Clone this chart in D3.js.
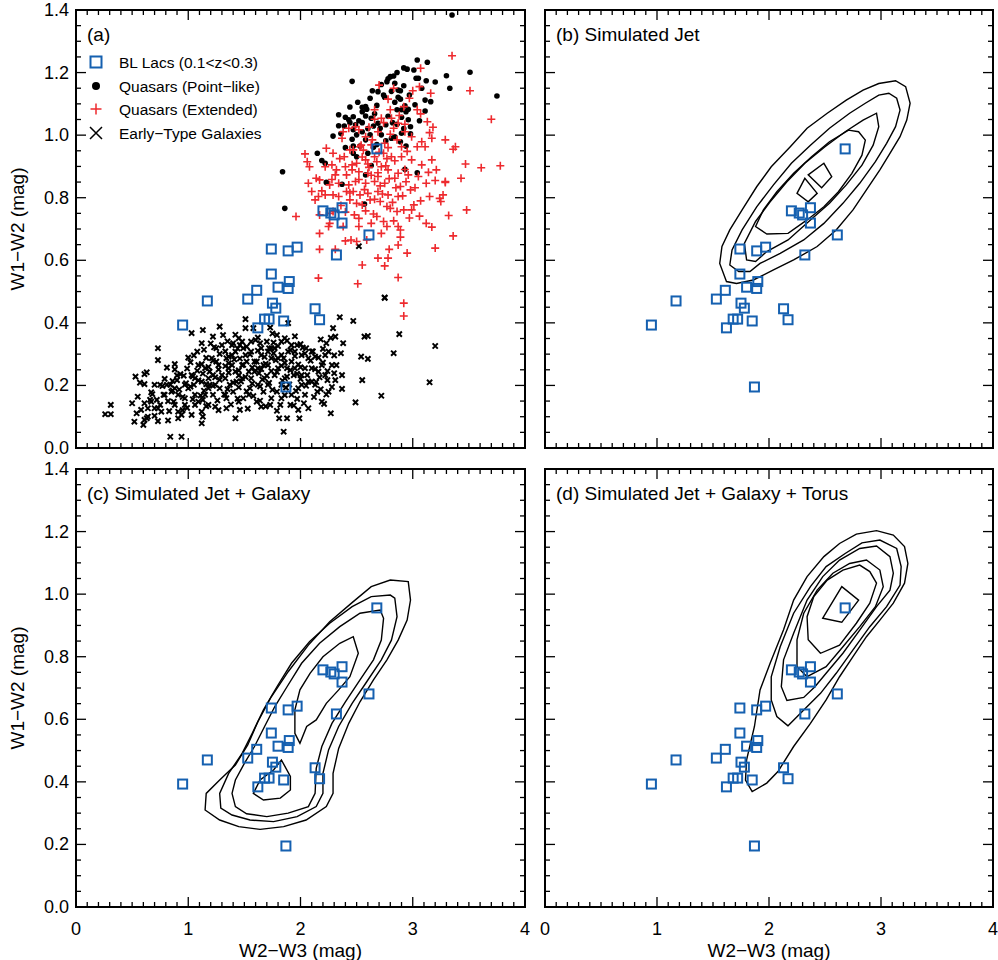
<!DOCTYPE html>
<html>
<head>
<meta charset="utf-8">
<title>WISE colours of BL Lacs</title>
<script src="https://d3js.org/d3.v7.min.js"></script>
<style>
  body { margin: 0; background: #fff; }
  text { font-family: "Liberation Sans", Arial, Helvetica, sans-serif; fill: #000; }
</style>
</head>
<body>
<svg id="chart" width="998" height="960"></svg>
<script>
// ---- data (W2-W3, W1-W2) ----
blLacs = [
  [0.95,0.393],[1.17,0.47],[1.53,0.476],[1.61,0.504],[1.62,0.384],[1.68,0.412],[1.72,0.412],
  [1.75,0.463],[1.74,0.556],[1.74,0.636],[1.78,0.447],[1.80,0.514],[1.85,0.406],[1.87,0.195],
  [1.89,0.630],[1.89,0.510],[1.90,0.532],[1.97,0.642],[2.13,0.445],[2.17,0.410],[2.20,0.758],
  [2.27,0.751],[2.30,0.745],[2.37,0.768],[2.37,0.719],[2.32,0.617],[2.61,0.681],[2.68,0.956]
];

galaxies = [
  [0.26,0.108],[0.31,0.108],[0.31,0.138],[0.52,0.084],[0.50,0.143],[0.53,0.228],[0.57,0.209],
  [0.61,0.204],[0.63,0.242],[0.61,0.236],[0.54,0.111],[0.55,0.164],[0.58,0.122],[0.61,0.143],
  [0.61,0.090],[0.60,0.074],[0.63,0.095],[0.64,0.100],[0.67,0.178],[0.66,0.154],[0.72,0.154],
  [0.73,0.086],[0.73,0.127],[0.75,0.202],[0.73,0.319],[0.73,0.281],[0.81,0.257],[0.81,0.202],
  [0.82,0.150],[0.82,0.088],[0.84,0.036],[0.85,0.180],[0.88,0.268],[0.90,0.217],[0.91,0.116],
  [0.91,0.095],[0.94,0.036],[0.96,0.231],[0.97,0.138],[1.00,0.191],[1.00,0.289],[1.03,0.367],
  [1.03,0.233],[1.05,0.202],[1.06,0.170],[1.09,0.265],[1.08,0.308],[1.12,0.335],[1.13,0.377],
  [1.12,0.116],[1.13,0.100],[1.12,0.079],[1.13,0.154],[1.18,0.191],[1.19,0.244],[1.21,0.287],
  [1.24,0.202],[1.24,0.132],[1.25,0.319],[1.28,0.388],[1.30,0.329],[1.31,0.361],[1.33,0.170],
  [1.34,0.127],[1.36,0.255],[1.37,0.202],[1.39,0.297],[1.40,0.335],[1.42,0.095],[1.45,0.351],
  [1.45,0.148],[1.46,0.122],[1.48,0.223],[1.49,0.319],[1.51,0.412],[1.51,0.383],[1.52,0.276],
  [1.54,0.170],[1.56,0.308],[1.58,0.383],[1.59,0.244],[1.61,0.148],[1.62,0.202],[1.64,0.335],
  [1.65,0.132],[1.67,0.265],[1.70,0.340],[1.71,0.308],[1.71,0.202],[1.73,0.385],[1.74,0.159],
  [1.77,0.233],[1.79,0.361],[1.80,0.287],[1.82,0.138],[1.81,0.095],[1.85,0.052],[1.86,0.351],
  [1.88,0.255],[1.88,0.095],[1.89,0.399],[1.92,0.170],[1.94,0.233],[1.95,0.308],[1.97,0.329],
  [1.98,0.122],[1.99,0.095],[2.01,0.202],[2.03,0.143],[2.04,0.255],[2.05,0.319],[2.07,0.287],
  [2.10,0.212],[2.13,0.202],[2.13,0.292],[2.15,0.180],[2.19,0.148],[2.19,0.265],[2.22,0.297],
  [2.23,0.335],[2.25,0.180],[2.27,0.111],[2.29,0.383],[2.31,0.217],[2.32,0.265],[2.31,0.356],
  [2.35,0.418],[2.36,0.303],[2.37,0.233],[2.37,0.189],[2.38,0.335],[2.47,0.406],[2.49,0.146],
  [2.54,0.292],[2.55,0.217],[2.57,0.356],[2.60,0.358],[2.60,0.285],[2.72,0.167],[2.75,0.481],
  [2.83,0.303],[2.88,0.364],[3.15,0.210],[3.20,0.326],[2.52,0.645],[2.75,0.480],
  [1.15,0.255],[1.18,0.223],[1.22,0.233],[1.27,0.265],[1.30,0.233],[1.34,0.287],[1.39,0.265],
  [1.42,0.244],[1.43,0.212],[1.48,0.265],[1.51,0.297],[1.54,0.244],[1.56,0.223],[1.59,0.276],
  [1.62,0.255],[1.65,0.297],[1.68,0.223],[1.71,0.265],[1.74,0.287],[1.77,0.319],[1.80,0.255],
  [1.83,0.202],[1.86,0.223],[1.89,0.308],[1.92,0.276],[1.95,0.255],[1.98,0.191],[2.01,0.233],
  [2.04,0.170],[2.07,0.212],[2.10,0.255],[1.22,0.170],[1.28,0.191],[1.34,0.159],[1.40,0.180],
  [1.49,0.159],[1.55,0.191],[1.67,0.180],[1.73,0.138],[1.79,0.180],[1.83,0.159],[1.91,0.138],
  [1.18,0.138],[1.06,0.138],[0.97,0.159],[0.91,0.170],[0.87,0.148],[0.79,0.170],[0.76,0.116],
  [0.70,0.127],[0.88,0.138],[0.94,0.106],[1.03,0.106],[1.09,0.148],[1.15,0.170],[1.42,0.308],
  [1.48,0.340],[1.56,0.340],[1.65,0.319],[1.74,0.319],[1.83,0.340],[1.92,0.329],[2.01,0.297],
  [2.10,0.308],[2.16,0.244],[2.22,0.233],[2.28,0.265],[2.25,0.308],[1.83,0.297],[1.39,0.329],
  [1.33,0.223],[1.25,0.276],[1.19,0.202],[1.12,0.212],[1.06,0.223],[0.97,0.202],[0.88,0.191],
  [0.84,0.202],[0.78,0.170],[0.70,0.202],[0.67,0.148],[0.64,0.127],
  [0.99,0.128],[1.16,0.134],[1.27,0.121],[1.38,0.139],[1.53,0.126],[1.69,0.133],[1.79,0.119],
  [1.94,0.136],[2.07,0.127],[2.21,0.141],[0.95,0.163],[1.04,0.156],[1.11,0.168],[1.26,0.152],
  [1.32,0.171],[1.44,0.158],[1.58,0.166],[1.64,0.151],[1.86,0.169],[1.97,0.157],[2.12,0.163],
  [2.23,0.171],[0.92,0.187],[1.02,0.196],[1.14,0.183],[1.22,0.199],[1.35,0.188],[1.45,0.194],
  [1.52,0.181],[1.64,0.197],[1.75,0.186],[1.87,0.193],[1.96,0.182],[2.05,0.199],[2.18,0.188],
  [2.28,0.195],[0.86,0.214],[0.98,0.207],[1.09,0.216],[1.16,0.204],[1.28,0.218],[1.40,0.209],
  [1.47,0.213],[1.57,0.206],[1.66,0.219],[1.72,0.208],[1.84,0.215],[1.90,0.203],[2.00,0.221],
  [2.14,0.211],[2.24,0.217],[0.93,0.236],[1.04,0.229],[1.13,0.238],[1.24,0.226],[1.36,0.241],
  [1.45,0.232],[1.51,0.227],[1.63,0.239],[1.70,0.231],[1.79,0.243],[1.88,0.228],[1.97,0.237],
  [2.06,0.233],[2.17,0.226],[2.30,0.239],[0.99,0.254],[1.08,0.247],[1.18,0.259],[1.27,0.251],
  [1.33,0.262],[1.45,0.248],[1.57,0.257],[1.65,0.252],[1.74,0.246],[1.83,0.263],[1.91,0.249],
  [2.00,0.258],[2.13,0.252],[2.24,0.246],[1.02,0.274],[1.12,0.268],[1.22,0.279],[1.36,0.271],
  [1.41,0.283],[1.49,0.266],[1.61,0.276],[1.69,0.269],[1.78,0.281],[1.86,0.272],[1.98,0.267],
  [2.09,0.279],[2.20,0.273],[1.05,0.296],[1.16,0.288],[1.28,0.301],[1.36,0.292],[1.46,0.286],
  [1.55,0.299],[1.68,0.291],[1.76,0.303],[1.85,0.287],[1.95,0.294],[2.04,0.302],[2.16,0.289],
  [2.30,0.296],[1.14,0.314],[1.23,0.322],[1.33,0.309],[1.44,0.318],[1.52,0.324],[1.62,0.311],
  [1.72,0.319],[1.80,0.326],[1.91,0.313],[2.02,0.321],[2.11,0.309],[2.20,0.317],[1.20,0.334],
  [1.35,0.341],[1.46,0.329],[1.60,0.345],[1.76,0.337],[1.88,0.343],[2.00,0.332],[2.18,0.347],
  [1.22,0.356],[1.42,0.362],[1.62,0.353],[1.75,0.366],[1.95,0.357],[2.27,0.352],[0.68,0.172],
  [0.75,0.138],[0.79,0.221],[0.83,0.118],[0.86,0.184],[0.90,0.232],[0.70,0.103],[0.77,0.198],
  [0.95,0.121],[0.88,0.251]
];

quasarsPoint = [
  [3.35,1.384],[3.04,1.240],[3.13,1.233],[2.95,1.211],[3.01,1.208],[3.51,1.201],[3.30,1.190],
  [2.46,1.172],[3.03,1.182],[3.05,1.182],[3.12,1.174],[2.78,1.180],[2.80,1.187],[2.83,1.189],
  [2.77,1.171],[2.84,1.166],[3.33,1.150],[2.64,1.142],[2.69,1.139],[2.74,1.128],[2.87,1.144],
  [2.89,1.142],[2.75,1.121],[2.87,1.121],[2.89,1.115],[3.11,1.112],[3.16,1.107],[3.75,1.125],
  [2.93,1.094],[2.55,1.089],[2.58,1.091],[2.59,1.083],[2.55,1.075],[2.86,1.081],[2.90,1.081],
  [2.94,1.075],[3.11,1.077],[2.34,1.065],[2.40,1.057],[2.43,1.049],[2.47,1.059],[2.58,1.061],
  [2.63,1.054],[2.90,1.057],[2.96,1.049],[2.39,1.029],[2.44,1.040],[2.49,1.033],[2.55,1.040],
  [2.69,1.038],[2.76,1.033],[2.34,1.030],[2.65,1.029],[2.86,1.035],[2.98,1.027],[2.29,0.997],
  [2.47,1.017],[2.50,1.001],[2.55,1.011],[2.72,1.001],[2.81,0.990],[2.84,0.995],[2.90,1.006],
  [2.98,1.004],[2.46,0.987],[2.58,0.985],[2.62,1.001],[2.40,0.960],[2.47,0.965],[2.89,0.979],
  [2.15,0.942],[2.19,0.919],[2.47,0.942],[2.50,0.931],[2.63,0.903],[2.22,0.910],[1.84,0.883],
  [2.23,0.849],[2.37,0.843],[2.58,0.873],[3.04,0.880],[2.93,0.891],[1.86,0.766],[2.57,0.780],
  [2.65,0.961],[2.60,0.942],
  [2.51,1.105],[2.62,1.118],[2.68,1.095],[2.72,1.162],[2.81,1.140],[2.92,1.158],[2.97,1.128],
  [3.02,1.097],[2.66,1.068],[2.78,1.060],[2.84,1.105],[2.96,1.083],[2.52,1.046],[2.60,1.021],
  [2.71,1.022],[2.82,1.040],[2.92,1.021],[3.06,1.046],[2.44,1.090],[2.36,1.005],[2.53,0.965],
  [2.68,0.970],[2.76,0.982],[2.94,0.965],[3.08,1.150],[2.86,1.200],[2.92,1.215],[3.20,1.170]
];

quasarsExt = [
  [3.35,1.254],[3.07,1.214],[3.51,1.142],[2.70,1.160],[2.83,1.150],[3.00,1.142],[3.06,1.155],
  [3.16,1.134],[2.78,1.115],[2.97,1.118],[2.92,1.091],[3.04,1.081],[3.07,1.068],[2.66,1.081],
  [2.80,1.081],[3.70,1.051],[3.13,1.043],[3.18,1.025],[3.15,1.008],[3.17,0.990],[3.29,0.985],
  [3.38,0.963],[3.36,0.955],[3.47,0.908],[3.61,0.896],[3.78,0.902],[3.43,0.862],[3.29,0.849],
  [2.66,1.051],[2.72,1.054],[2.81,1.054],[2.87,1.038],[2.49,1.027],[2.52,1.017],[2.43,1.022],
  [2.38,1.011],[2.37,0.990],[2.58,0.995],[2.69,1.011],[2.83,1.022],[2.93,1.011],[2.99,0.995],
  [3.08,0.979],[3.11,0.963],[3.04,0.963],[2.90,0.963],[2.75,0.974],[2.63,0.969],[2.53,0.963],
  [2.44,0.953],[2.47,0.953],[2.23,0.958],[2.29,0.942],[2.39,0.931],[2.04,0.940],[2.06,0.915],
  [2.08,0.899],[2.22,0.899],[2.28,0.905],[2.32,0.889],[2.40,0.899],[2.50,0.910],[2.58,0.921],
  [2.66,0.931],[2.74,0.942],[2.81,0.931],[2.90,0.931],[2.99,0.921],[3.08,0.905],[3.17,0.921],
  [3.21,0.889],[3.14,0.881],[3.05,0.868],[2.96,0.873],[2.87,0.878],[2.78,0.889],[2.72,0.899],
  [2.69,0.868],[2.60,0.878],[2.52,0.883],[2.46,0.889],[2.41,0.873],[2.31,0.873],[2.14,0.862],
  [2.07,0.846],[2.10,0.820],[2.17,0.857],[2.26,0.841],[2.34,0.846],[2.43,0.841],[2.49,0.852],
  [2.58,0.846],[2.66,0.852],[2.75,0.846],[2.84,0.862],[2.89,0.836],[2.98,0.825],[3.12,0.846],
  [3.20,0.855],[3.29,0.852],[2.16,0.804],[2.22,0.809],[2.29,0.809],[2.34,0.804],[2.41,0.820],
  [2.47,0.820],[2.53,0.809],[2.60,0.814],[2.69,0.820],[2.78,0.809],[2.87,0.804],[2.13,0.793],
  [2.44,0.793],[2.50,0.782],[2.55,0.777],[2.62,0.793],[2.71,0.788],[2.77,0.772],[2.80,0.766],
  [2.86,0.756],[2.92,0.761],[2.99,0.761],[3.01,0.777],[3.15,0.804],[3.24,0.798],[3.25,0.788],
  [3.27,0.809],[3.48,0.761],[3.32,0.743],[1.96,0.740],[2.17,0.745],[2.26,0.750],[2.29,0.756],
  [2.40,0.754],[2.52,0.734],[2.65,0.748],[2.63,0.718],[2.74,0.724],[2.77,0.708],[2.87,0.708],
  [2.89,0.697],[3.12,0.718],[3.17,0.706],[3.36,0.678],[2.17,0.686],[2.25,0.708],[2.26,0.718],
  [2.38,0.708],[2.52,0.708],[2.40,0.662],[2.45,0.665],[2.50,0.660],[2.59,0.665],[2.72,0.686],
  [2.89,0.674],[2.87,0.649],[2.17,0.635],[2.31,0.635],[2.79,0.635],[2.95,0.623],[3.20,0.639],
  [2.69,0.607],[2.78,0.607],[2.55,0.585],[2.75,0.582],[2.87,0.545],[2.16,0.543],[2.51,0.525],
  [2.92,0.463],[2.92,0.422],
  [2.46,0.905],[2.55,0.930],[2.61,0.897],[2.68,0.915],[2.76,0.902],[2.84,0.918],[2.93,0.890],
  [2.52,0.858],[2.63,0.872],[2.71,0.838],[2.79,0.861],[2.85,0.832],[2.94,0.851],[2.56,0.952],
  [2.64,0.985],[2.70,0.945],[2.78,0.960],[2.86,0.985],[2.95,0.948],[2.61,1.025],[2.74,1.040],
  [2.80,1.003],[2.88,1.063],[2.93,1.035],[2.44,0.815],[2.57,0.826],[2.66,0.795],[2.73,0.812],
  [2.82,0.785],[2.91,0.806],[3.02,0.832],[3.07,0.790],[2.35,0.925],[2.28,0.858],[2.19,0.822],
  [2.36,0.775],[2.48,0.745],[2.58,0.758],[2.68,0.740],[2.83,0.726],[2.97,0.735],[3.06,0.741],
  [2.54,0.968],[2.60,0.908],[2.69,0.880],[2.77,0.925]
];

// contours, panel (b) simulated jet
contoursJet = [
  [[1.62,0.532],[1.56,0.590],[1.58,0.644],[1.65,0.697],[1.76,0.761],[1.89,0.835],[2.02,0.899],
   [2.19,0.963],[2.34,1.022],[2.52,1.070],[2.69,1.112],[2.84,1.144],[2.98,1.165],[3.13,1.174],
   [3.22,1.155],[3.26,1.102],[3.23,1.048],[3.17,0.995],[3.08,0.942],[2.99,0.889],[2.87,0.825],
   [2.75,0.761],[2.60,0.697],[2.43,0.644],[2.22,0.601],[2.04,0.569],[1.86,0.537],[1.71,0.526]],
  [[1.65,0.585],[1.67,0.633],[1.76,0.697],[1.89,0.771],[2.04,0.841],[2.20,0.910],[2.37,0.968],
   [2.54,1.022],[2.72,1.070],[2.86,1.102],[2.98,1.128],[3.07,1.134],[3.14,1.118],[3.17,1.080],
   [3.13,1.027],[3.05,0.974],[2.95,0.915],[2.81,0.846],[2.66,0.782],[2.49,0.718],[2.31,0.665],
   [2.10,0.622],[1.92,0.590],[1.83,0.564],[1.73,0.564]],
  [[1.80,0.601],[1.78,0.654],[1.88,0.724],[2.01,0.787],[2.16,0.851],[2.32,0.910],[2.50,0.963],
   [2.68,1.011],[2.84,1.048],[2.96,1.070],[2.98,1.027],[2.93,0.968],[2.83,0.904],[2.69,0.841],
   [2.54,0.782],[2.37,0.729],[2.17,0.665],[1.98,0.628],[1.88,0.596]],
  [[1.98,0.684],[1.88,0.708],[1.95,0.761],[2.07,0.819],[2.22,0.878],[2.38,0.931],[2.54,0.979],
   [2.71,1.016],[2.80,1.011],[2.86,0.984],[2.83,0.936],[2.74,0.878],[2.62,0.819],[2.49,0.771],
   [2.34,0.729],[2.17,0.686]],
  [[2.25,0.814],[2.32,0.862],[2.43,0.814],[2.35,0.787]],
  [[2.35,0.873],[2.49,0.910],[2.56,0.867],[2.47,0.832]]
];

// contours, panel (c) jet + galaxy
contoursGal = [
  [[1.15,0.310],[1.16,0.363],[1.28,0.406],[1.42,0.454],[1.53,0.518],[1.62,0.592],[1.74,0.672],
   [1.89,0.752],[2.07,0.837],[2.26,0.912],[2.47,0.976],[2.63,1.024],[2.80,1.045],[2.96,1.040],
   [2.98,0.981],[2.95,0.917],[2.87,0.853],[2.77,0.790],[2.65,0.726],[2.53,0.656],[2.43,0.587],
   [2.34,0.507],[2.29,0.427],[2.29,0.363],[2.23,0.321],[2.05,0.278],[1.85,0.257],[1.64,0.248],
   [1.45,0.257],[1.28,0.278]],
  [[1.28,0.363],[1.29,0.316],[1.39,0.294],[1.55,0.278],[1.76,0.273],[1.97,0.289],[2.14,0.321],
   [2.20,0.363],[2.20,0.427],[2.25,0.502],[2.34,0.577],[2.46,0.651],[2.59,0.720],[2.72,0.790],
   [2.81,0.853],[2.86,0.928],[2.84,0.987],[2.80,0.997],[2.63,0.992],[2.46,0.960],[2.26,0.907],
   [2.08,0.848],[1.92,0.779],[1.79,0.704],[1.67,0.630],[1.57,0.555],[1.48,0.491],[1.36,0.427]],
  [[1.39,0.363],[1.42,0.321],[1.52,0.298],[1.70,0.289],[1.89,0.300],[2.07,0.321],[2.13,0.363],
   [2.14,0.443],[2.19,0.513],[2.28,0.587],[2.40,0.656],[2.53,0.726],[2.65,0.790],[2.72,0.853],
   [2.74,0.923],[2.71,0.949],[2.53,0.939],[2.35,0.896],[2.17,0.843],[2.01,0.779],[1.88,0.704],
   [1.77,0.640],[1.68,0.577],[1.59,0.513],[1.50,0.459],[1.42,0.406]],
  [[1.95,0.555],[1.995,0.523],[2.055,0.577],[2.14,0.598],[2.23,0.651],[2.34,0.694],[2.44,0.736],
   [2.515,0.811],[2.47,0.864],[2.35,0.843],[2.20,0.800],[2.085,0.747],[1.995,0.694],[1.95,0.630]],
  [[1.58,0.363],[1.67,0.342],[1.82,0.348],[1.91,0.374],[1.91,0.417],[1.83,0.470],[1.76,0.438],
   [1.64,0.406]]
];

// contours, panel (d) jet + galaxy + torus
contoursTorus = [
  [[1.85,0.369],[1.79,0.406],[1.80,0.470],[1.87,0.577],[1.92,0.694],[2.01,0.779],[2.13,0.886],
   [2.22,0.981],[2.34,1.056],[2.49,1.120],[2.63,1.162],[2.78,1.192],[2.96,1.203],[3.11,1.189],
   [3.21,1.152],[3.24,1.098],[3.21,1.035],[3.11,0.971],[2.99,0.917],[2.87,0.864],[2.75,0.800],
   [2.63,0.736],[2.51,0.662],[2.37,0.587],[2.22,0.513],[2.08,0.433],[1.98,0.396]],
  [[2.17,0.579],[2.07,0.609],[2.02,0.662],[2.02,0.736],[2.10,0.832],[2.22,0.939],[2.37,1.024],
   [2.51,1.088],[2.68,1.130],[2.83,1.164],[2.99,1.173],[3.14,1.146],[3.18,1.088],[3.17,1.029],
   [3.05,0.960],[2.90,0.896],[2.75,0.822],[2.60,0.747],[2.46,0.683],[2.31,0.630]],
  [[2.16,0.660],[2.11,0.704],[2.13,0.790],[2.22,0.875],[2.34,0.981],[2.48,1.056],[2.63,1.109],
   [2.81,1.146],[2.96,1.154],[3.08,1.120],[3.11,1.067],[3.08,1.013],[2.96,0.960],[2.81,0.885],
   [2.66,0.811],[2.51,0.747],[2.41,0.704],[2.31,0.670]],
  [[2.34,0.736],[2.25,0.768],[2.25,0.854],[2.31,0.939],[2.43,1.013],[2.57,1.067],[2.72,1.098],
   [2.87,1.109],[2.99,1.077],[3.02,1.024],[2.95,0.960],[2.81,0.896],[2.66,0.832],[2.51,0.768]],
  [[2.46,0.811],[2.35,0.854],[2.34,0.928],[2.40,0.992],[2.52,1.045],[2.66,1.077],[2.81,1.093],
   [2.90,1.072],[2.96,1.035],[2.90,0.971],[2.78,0.907],[2.63,0.837]],
  [[2.48,0.923],[2.65,1.024],[2.80,0.981],[2.65,0.910]]
];

panelTitles = ["(a)", "(b) Simulated Jet", "(c) Simulated Jet + Galaxy", "(d) Simulated Jet + Galaxy + Torus"];
legendLabels = ["BL Lacs (0.1<z<0.3)", "Quasars (Point\u2212like)", "Quasars (Extended)", "Early\u2212Type Galaxies"];
xTicks = [0, 1, 2, 3, 4];
yTicks = [0, 0.2, 0.4, 0.6, 0.8, 1.0, 1.2, 1.4];

// ---- layout ----
blue = "#1560b0";
red = "#ee2a2e";
frames = [
  { left: 76,  right: 525, top: 10,  bottom: 448, xlab: false, ylab: true },
  { left: 545, right: 993, top: 10,  bottom: 448, xlab: false, ylab: false },
  { left: 76,  right: 525, top: 469, bottom: 907, xlab: true,  ylab: true },
  { left: 545, right: 993, top: 469, bottom: 907, xlab: true,  ylab: false }
];
contourSets = [null, contoursJet, contoursGal, contoursTorus];

svg = d3.select("#chart");

function plusPath(s) { return `M${-s},0H${s}M0,${-s}V${s}`; }
function crossPath(s) { return `M${-s},${-s}L${s},${s}M${-s},${s}L${s},${-s}`; }

frames.forEach(function(f, i) {
  x = d3.scaleLinear().domain([0, 4]).range([f.left, f.right]);
  y = d3.scaleLinear().domain([0, 1.4]).range([f.bottom, f.top]);
  g = svg.append("g");

  // minor + major ticks, pointing inward on all four sides
  xMinor = d3.range(0, 4.0001, 0.1);
  yMinor = d3.range(0, 1.4001, 0.05);
  ticks = g.append("g").attr("stroke", "#000").attr("stroke-width", 1.3);
  xMinor.forEach(function(v) {
    major = Math.abs(v - Math.round(v)) < 1e-6;
    len = major ? 10 : 5;
    ticks.append("line").attr("x1", x(v)).attr("x2", x(v)).attr("y1", f.bottom).attr("y2", f.bottom - len);
    ticks.append("line").attr("x1", x(v)).attr("x2", x(v)).attr("y1", f.top).attr("y2", f.top + len);
  });
  yMinor.forEach(function(v) {
    major = Math.abs(v * 5 - Math.round(v * 5)) < 1e-6;
    len = major ? 10 : 5;
    ticks.append("line").attr("y1", y(v)).attr("y2", y(v)).attr("x1", f.left).attr("x2", f.left + len);
    ticks.append("line").attr("y1", y(v)).attr("y2", y(v)).attr("x1", f.right).attr("x2", f.right - len);
  });

  if (f.xlab) {
    g.selectAll(".xt").data(xTicks).enter().append("text")
      .attr("x", d => x(d)).attr("y", f.bottom + 28)
      .attr("text-anchor", "middle").attr("font-size", 18)
      .text(d => d3.format("d")(d));
    g.append("text").attr("x", (f.left + f.right) / 2).attr("y", f.bottom + 50)
      .attr("text-anchor", "middle").attr("font-size", 19).text("W2\u2212W3 (mag)");
  }
  if (f.ylab) {
    g.selectAll(".yt").data(yTicks).enter().append("text")
      .attr("x", f.left - 7).attr("y", d => y(d) + 6)
      .attr("text-anchor", "end").attr("font-size", 18)
      .text(d => d3.format(".1f")(d));
    g.append("text")
      .attr("transform", `translate(24,${(f.top + f.bottom) / 2}) rotate(-90)`)
      .attr("text-anchor", "middle").attr("font-size", 19).text("W1\u2212W2 (mag)");
  }

  // contours
  if (contourSets[i]) {
    line = d3.line().x(d => x(d[0])).y(d => y(d[1])).curve(d3.curveLinearClosed);
    g.append("g").selectAll("path").data(contourSets[i]).enter().append("path")
      .attr("d", line).attr("fill", "none").attr("stroke", "#000").attr("stroke-width", 1.4);
  }

  if (i == 0) {
    g.append("g").selectAll("path").data(galaxies).enter().append("path")
      .attr("transform", d => `translate(${x(d[0])},${y(d[1])})`)
      .attr("d", crossPath(2.6)).attr("stroke", "#000").attr("stroke-width", 2);
    g.append("g").selectAll("circle").data(quasarsPoint).enter().append("circle")
      .attr("cx", d => x(d[0])).attr("cy", d => y(d[1])).attr("r", 2.8).attr("fill", "#000");
    g.append("g").selectAll("path").data(quasarsExt).enter().append("path")
      .attr("transform", d => `translate(${x(d[0])},${y(d[1])})`)
      .attr("d", plusPath(4)).attr("stroke", red).attr("stroke-width", 1.6);
  }

  // BL Lac squares in every panel
  g.append("g").selectAll("rect").data(blLacs).enter().append("rect")
    .attr("x", d => x(d[0]) - 4.5).attr("y", d => y(d[1]) - 4.5)
    .attr("width", 9).attr("height", 9)
    .attr("fill", "none").attr("stroke", blue).attr("stroke-width", 2);

  // frame
  g.append("rect").attr("x", f.left).attr("y", f.top)
    .attr("width", f.right - f.left).attr("height", f.bottom - f.top)
    .attr("fill", "none").attr("stroke", "#000").attr("stroke-width", 2);

  g.append("text").attr("x", f.left + 11).attr("y", f.top + 31)
    .attr("font-size", 19).text(panelTitles[i]);
});

// legend, panel (a)
leg = svg.append("g").attr("transform", "translate(96,0)");
rowsY = [62, 86, 109, 133];
leg.append("rect").attr("x", -5.5).attr("y", rowsY[0] - 5.5).attr("width", 11).attr("height", 11)
  .attr("fill", "none").attr("stroke", blue).attr("stroke-width", 2);
leg.append("circle").attr("cx", 0).attr("cy", rowsY[1]).attr("r", 4).attr("fill", "#000");
leg.append("path").attr("transform", `translate(0,${rowsY[2]})`).attr("d", plusPath(5.5))
  .attr("stroke", red).attr("stroke-width", 1.5);
leg.append("path").attr("transform", `translate(0,${rowsY[3]})`).attr("d", crossPath(6))
  .attr("stroke", "#000").attr("stroke-width", 1.5);
leg.selectAll("text").data(legendLabels).enter().append("text")
  .attr("x", 23).attr("y", (d, k) => rowsY[k] + 5.5)
  .attr("font-size", 15.5).text(d => d);
</script>
</body>
</html>
